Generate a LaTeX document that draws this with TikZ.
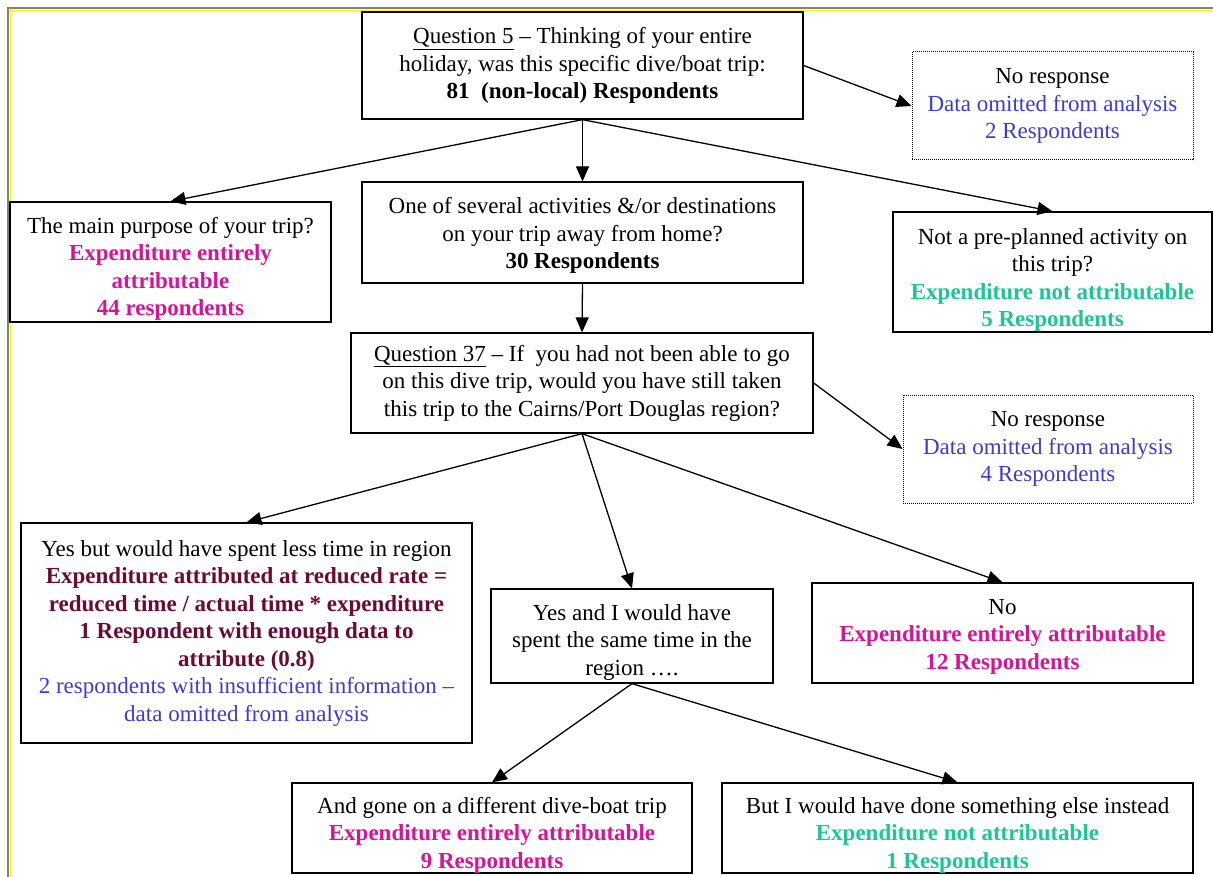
\documentclass[tikz,border=0pt]{standalone}
\usepackage{fontspec}
\setmainfont{Liberation Serif}
\usetikzlibrary{arrows.meta}
\definecolor{mag}{HTML}{D6149A}
\definecolor{grn}{HTML}{1AC896}
\definecolor{blu}{HTML}{3C3CD2}
\definecolor{mar}{HTML}{6E0A32}
\definecolor{framegray}{HTML}{808080}
\newcommand{\topgap}[1]{\rule{0pt}{#1}}
\begin{document}
\begin{tikzpicture}[x=1pt,y=-1pt,
  box/.style={draw, line width=1.3pt, align=center, inner sep=0pt,
    font=\fontsize{23}{27.5}\selectfont},
  dotbox/.style={box, line width=1pt, dash pattern=on 1pt off 1pt},
  arr/.style={-{Triangle[length=15pt,width=13pt]}, line width=1.3pt}]
\useasboundingbox (0,0) rectangle (1213,877);
\fill[white] (0,0) rectangle (1213,877);
\draw[framegray, line width=2pt] (8,877) -- (8,8.5) -- (1213,8.5);
\draw[yellow, line width=1.5pt] (10.5,877) -- (10.5,10.5) -- (1213,10.5);

\node[box, minimum width=441pt, minimum height=107pt] (q5) at (582.5,65.5)
  {\underline{Question 5} -- Thinking of your entire\\
   holiday, was this specific dive/boat trip:\\
   \textbf{81\ \ (non-local) Respondents}};

\node[dotbox, minimum width=281pt, minimum height=108pt] (nr1) at (1052.5,106)
  {No response\\
   \textcolor{blu}{Data omitted from analysis}\\
   \textcolor{blu}{2 Respondents}};

\node[box, minimum width=321pt, minimum height=120pt] (main) at (170.5,262)
  {\topgap{30pt}The main purpose of your trip?\\
   \textcolor{mag}{\textbf{Expenditure entirely}}\\
   \textcolor{mag}{\textbf{attributable}}\\
   \textcolor{mag}{\textbf{44 respondents}}};

\node[box, minimum width=441pt, minimum height=101pt] (one) at (582.5,232.5)
  {\topgap{22pt}One of several activities \&/or destinations\\
   on your trip away from home?\\
   \textbf{30 Respondents}};

\node[box, minimum width=319pt, minimum height=120pt] (notpre) at (1052.5,272)
  {\topgap{32pt}Not a pre-planned activity on\\
   this trip?\\
   \textcolor{grn}{\textbf{Expenditure not attributable}}\\
   \textcolor{grn}{\textbf{5 Respondents}}};

\node[box, minimum width=462pt, minimum height=100pt] (q37) at (582,383)
  {\underline{Question 37} -- If\ \ you had not been able to go\\
   on this dive trip, would you have still taken\\
   this trip to the Cairns/Port Douglas region?};

\node[dotbox, minimum width=290pt, minimum height=108pt] (nr2) at (1048,449)
  {No response\\
   \textcolor{blu}{Data omitted from analysis}\\
   \textcolor{blu}{4 Respondents}};

\node[box, minimum width=451pt, minimum height=220pt] (yless) at (246.5,633)
  {Yes but would have spent less time in region\\
   \textcolor{mar}{\textbf{Expenditure attributed at reduced rate =}}\\
   \textcolor{mar}{\textbf{reduced time / actual time * expenditure}}\\
   \textcolor{mar}{\textbf{1 Respondent with enough data to}}\\
   \textcolor{mar}{\textbf{attribute (0.8)}}\\
   \textcolor{blu}{2 respondents with insufficient information --}\\
   \textcolor{blu}{data omitted from analysis}};

\node[box, minimum width=282pt, minimum height=94pt] (ysame) at (632,636)
  {\topgap{28pt}Yes and I would have\\
   spent the same time in the\\
   region \dots.};

\node[box, minimum width=381pt, minimum height=100pt] (no) at (1002.5,633)
  {\topgap{22pt}No\\
   \textcolor{mag}{\textbf{Expenditure entirely attributable}}\\
   \textcolor{mag}{\textbf{12 Respondents}}};

\node[box, minimum width=400pt, minimum height=90pt] (gone) at (492,828)
  {\topgap{30pt}And gone on a different dive-boat trip\\
   \textcolor{mag}{\textbf{Expenditure entirely attributable}}\\
   \textcolor{mag}{\textbf{9 Respondents}}};

\node[box, minimum width=471pt, minimum height=90pt] (buti) at (957.5,828)
  {\topgap{30pt}But I would have done something else instead\\
   \textcolor{grn}{\textbf{Expenditure not attributable}}\\
   \textcolor{grn}{\textbf{1 Respondents}}};

\draw[arr] (q5.south) -- (main.north);
\draw[arr] (q5.south) -- (one.north);
\draw[arr] (q5.south) -- (notpre.north);
\draw[arr] (q5.east) -- (nr1.west);
\draw[arr] (one.south) -- (q37.north);
\draw[arr] (q37.east) -- (nr2.west);
\draw[arr] (q37.south) -- (yless.north);
\draw[arr] (q37.south) -- (ysame.north);
\draw[arr] (q37.south) -- (no.north);
\draw[arr] (ysame.south) -- (gone.north);
\draw[arr] (ysame.south) -- (buti.north);
\end{tikzpicture}
\end{document}
